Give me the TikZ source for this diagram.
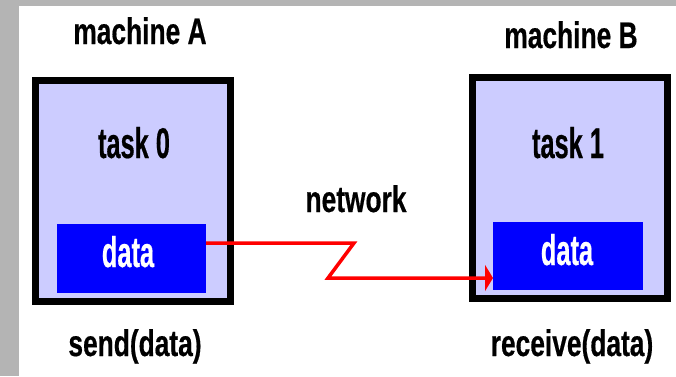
\documentclass[tikz,border=0pt]{standalone}
\usepackage{fontspec}
\newfontfamily\outerfont[FakeStretch=0.712,FakeBold=0.4]{Liberation Sans Bold}
\newfontfamily\innerfont[FakeStretch=0.59,FakeBold=0.4]{Liberation Sans Bold}
\usetikzlibrary{arrows.meta}
\definecolor{bordergray}{HTML}{B4B4B4}
\definecolor{lavender}{HTML}{CCCCFF}
\definecolor{datablue}{HTML}{0000FF}
\definecolor{netred}{HTML}{FF0000}
\begin{document}
\begin{tikzpicture}[x=1pt,y=-1pt,
  outerlbl/.style={font=\outerfont\fontsize{37}{44}\selectfont, inner sep=0pt, anchor=base},
  innerlbl/.style={font=\innerfont\fontsize{43}{50}\selectfont, inner sep=0pt, anchor=base},
  machinebox/.style={draw=black, line width=7pt, fill=lavender, minimum width=195pt, minimum height=221pt, inner sep=0pt, outer sep=0pt},
  databox/.style={fill=datablue, inner sep=0pt, outer sep=0pt},
  netlink/.style={draw=netred, line width=3.5pt, -{Triangle[length=8pt,width=26pt]}}
]
\useasboundingbox (0,0) rectangle (676,376);
\fill[white] (0,0) rectangle (676,376);
\fill[bordergray] (0,0) rectangle (676,6);
\fill[bordergray] (0,0) rectangle (19,376);

\node[machinebox] (mA) at (133,191) {};
\node[machinebox] (mB) at (570,188) {};
\node[databox, minimum width=149pt, minimum height=69pt] (dA) at (131.5,258.5) {};
\node[databox, minimum width=150pt, minimum height=68pt] (dB) at (568,256) {};

\node[outerlbl] (lmA) at (140,44) {machine A};
\node[outerlbl] (lmB) at (571,48) {machine B};
\node[innerlbl] (t0) at (134,158) {task 0};
\node[innerlbl] (t1) at (568,158) {task 1};
\node[innerlbl, text=white] (dAl) at (128,267) {data};
\node[innerlbl, text=white] (dBl) at (567,265) {data};
\node[outerlbl] (net) at (356,212) {network};
\node[outerlbl] (snd) at (135,356) {send(data)};
\node[outerlbl] (rcv) at (572,356) {receive(data)};

\draw[netlink] ([yshift=15.5pt]dA.east) -- ++(148,0) -- ++(-26,35) -- ([yshift=-22pt]dB.west);
\end{tikzpicture}
\end{document}
